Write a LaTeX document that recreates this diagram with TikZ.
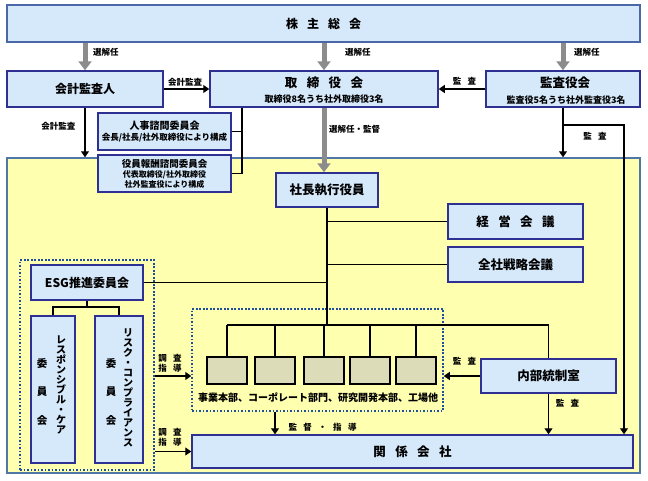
\documentclass[tikz,border=0pt]{standalone}
\usepackage{fontspec}
\setmainfont{Noto Sans CJK JP}
\usepackage{xcolor}
\usepackage{tikz}
\usetikzlibrary{arrows.meta,positioning}
\definecolor{boxfill}{HTML}{D6E9FB}
\definecolor{boxline}{HTML}{2E3192}
\definecolor{topline}{HTML}{4A68A8}
\definecolor{areafill}{HTML}{FFFFB0}
\definecolor{arealine}{HTML}{4F78A8}
\definecolor{unitfill}{HTML}{DCDCB8}
\definecolor{dotline}{HTML}{1F4E9C}
\definecolor{electgray}{HTML}{8C8C8C}
\newcommand{\jsp}{\hspace{0.75em}}
\newcommand{\fsz}[2]{\fontsize{#1}{#2}\selectfont}
\tikzset{
  orgbox/.style={draw=boxline,line width=1.5pt,fill=boxfill,inner sep=0pt,align=center},
  unitbox/.style={draw=black,line width=1.3pt,fill=unitfill,minimum width=40pt,minimum height=27pt,inner sep=0pt},
  dotframe/.style={draw=dotline,line width=1.5pt,dash pattern=on 1.8pt off 1.7pt,inner sep=0pt},
  tag/.style={font=\fsz{8.5}{10}\bfseries,inner sep=0pt,align=center},
  tate/.style={font=\fsz{10}{10}\bfseries,inner sep=0pt,align=center},
  tateiin/.style={font=\fsz{10.5}{28.5}\bfseries,inner sep=0pt,align=center},
  link/.style={line width=1.2pt},
  flow/.style={line width=1.2pt,-{Triangle[width=8pt,length=6pt]}},
  elect/.style={draw=electgray,line width=5pt,-{Triangle[width=13pt,length=9pt]}},
}
\begin{document}
\begin{tikzpicture}[x=1pt,y=-1pt]
\useasboundingbox (0,0) rectangle (648,480);
% shareholders and executive area
\node[orgbox,draw=topline,line width=1.2pt,minimum width=633pt,minimum height=37pt,font=\fsz{12}{14}\bfseries] (soukai) at (323.5,23.5) {株\jsp 主\jsp 総\jsp 会};
\node[draw=arealine,fill=areafill,line width=1.5pt,minimum width=633pt,minimum height=315pt,inner sep=0pt] (area) at (323.5,315.5) {};
% board level
\node[orgbox,minimum width=156pt,minimum height=36pt,font=\fsz{12}{14}\bfseries] (kansanin) at (85,89) {会計監査人};
\node[orgbox,minimum width=228pt,minimum height=36pt] (torishimari) at (324,89) {};
\node[font=\fsz{12.5}{14}\bfseries,inner sep=0pt] (torishimarit) at (324,82.5) {取\jsp 締\jsp 役\jsp 会};
\node[font=\fsz{9}{11}\bfseries,inner sep=0pt] (torishimaris) at (324,99.5) {取締役8名うち社外取締役3名};
\node[orgbox,minimum width=154pt,minimum height=36pt] (kansayaku) at (563,89) {};
\node[font=\fsz{12.5}{14}\bfseries,inner sep=0pt] (kansayakut) at (565,83) {監査役会};
\node[font=\fsz{9}{11}\bfseries,inner sep=0pt] (kansayakus) at (566,100) {監査役5名うち社外監査役3名};
\node[orgbox,minimum width=133pt,minimum height=37pt,font=\fsz{8.5}{11}\bfseries] (jinji) at (164.5,131.5) {{\fsz{10}{11}人事諮問委員会}\\会長/社長/社外取締役により構成};
\node[orgbox,minimum width=133pt,minimum height=37pt,font=\fsz{8}{10}\bfseries] (housyu) at (164.5,173.5) {{\fsz{9.5}{10}役員報酬諮問委員会}\\代表取締役/社外取締役\\社外監査役により構成};
% election arrows
\draw[elect] (soukai.south -| kansanin.north) -- (kansanin.north);
\draw[elect] (soukai.south -| torishimari.north) -- (torishimari.north);
\draw[elect] (soukai.south -| kansayaku.north) -- (kansayaku.north);
\node[tag,anchor=west] (sen1) at (93,52) {選解任};
\node[tag,anchor=west] (sen2) at (345,52) {選解任};
\node[tag,anchor=west] (sen3) at (574,52) {選解任};
\draw[flow] (kansanin.east) -- (torishimari.west);
\node[tag] (kaikei1) at (185,82) {会計監査};
\draw[flow] (kansayaku.west) -- (torishimari.east);
\node[tag] (kansa1) at (464.5,81) {監\jsp 査};
\draw[flow] (kansanin.south) -- (kansanin.south |- area.north);
\node[tag] (kaikei2) at (58.5,126) {会計監査};
% advisory committees
\coordinate (tap) at ([xshift=-82pt]torishimari.south);
\draw[link] (tap) |- (housyu.east);
\draw[link] (jinji.east) -- (jinji.east -| tap);
% president
\node[orgbox,minimum width=102pt,minimum height=34pt,font=\fsz{12.5}{14}\bfseries] (shacho) at (327,190) {社長執行役員};
\draw[elect] (torishimari.south) -- (torishimari.south |- shacho.north);
\node[tag,anchor=west] (senkan) at (329,129) {選解任・監督};
% audit from kansayaku
\coordinate (kreturn) at (624,125);
\draw[flow] (kansayaku.south) -- (kansayaku.south |- area.north);
\node[tag] (kansa2) at (595,136) {監\jsp 査};
% meetings
\node[orgbox,minimum width=135pt,minimum height=35pt,font=\fsz{12.5}{14}\bfseries] (keiei) at (515.5,221.5) {経\jsp 営\jsp 会\jsp 議};
\node[orgbox,minimum width=135pt,minimum height=35pt,font=\fsz{12.5}{14}\bfseries] (senryaku) at (515.5,264.5) {全社戦略会議};
% ESG group
\node[dotframe,minimum width=134pt,minimum height=210pt] (esgframe) at (87,365) {};
\node[orgbox,minimum width=112pt,minimum height=35pt,font=\fsz{12}{14}\bfseries] (esg) at (87,282.5) {ESG推進委員会};
\node[orgbox,minimum width=44pt,minimum height=147pt] (rc) at (53,389.5) {};
\node[tate] (rcname) at (61,385) {レ\\ス\\ポ\\ン\\シ\\ブ\\ル\\・\\ケ\\ア};
\node[tateiin] (rciin) at (42,392) {委\\員\\会};
\node[orgbox,minimum width=48pt,minimum height=147pt] (risk) at (119,389.5) {};
\node[tate] (riskname) at (128,388) {リ\\ス\\ク\\・\\コ\\ン\\プ\\ラ\\イ\\ア\\ン\\ス};
\node[tateiin] (riskiin) at (111,392) {委\\員\\会};
\coordinate (esgfork) at (87,307);
\draw[link] (esg.south) -- (esgfork);
\draw[link] (rc.north) |- (esgfork) -| (risk.north);
% business units
\node[dotframe,minimum width=251pt,minimum height=102pt] (unitframe) at (317.5,360) {};
\foreach \x [count=\i] in {227,275,324,370,416}
  \node[unitbox] (u\i) at (\x,370.5) {};
\node[font=\fsz{10}{12}\bfseries,inner sep=0pt] (unitcap) at (318,398) {事業本部、コーポレート部門、研究開発本部、工場他};
\node[orgbox,minimum width=135pt,minimum height=34pt,font=\fsz{12.5}{14}\bfseries] (naibu) at (548.5,376) {内部統制室};
\node[orgbox,minimum width=441pt,minimum height=33pt,font=\fsz{12.5}{14}\bfseries] (kankei) at (412.5,451.5) {関\jsp 係\jsp 会\jsp 社};
% executive lines
\coordinate (bus) at (327,325);
\draw[link] (shacho.south) -- (shacho.south |- bus);
\draw[link] (keiei.west -| shacho.south) -- (keiei.west);
\draw[link] (senryaku.west -| shacho.south) -- (senryaku.west);
\draw[link] (esg.east) -- (esg.east -| shacho.south);
\draw[link] (u1.north |- bus) -- (naibu.north |- bus) -- (naibu.north);
\foreach \i in {1,...,5}
  \draw[link] (u\i.north) -- (u\i.north |- bus);
% audits and guidance
\draw[flow] (naibu.west) -- (naibu.west -| unitframe.east);
\node[tag] (kansa3) at (464.5,361) {監\jsp 査};
\draw[flow] (naibu.south) -- (naibu.south |- kankei.north);
\node[tag] (kansa4) at (567.5,403) {監\jsp 査};
\draw[flow] (kansayaku.south |- kreturn) -- (kreturn) -- (kreturn |- kankei.north);
\draw[flow] (unitframe.south -| u2) -- (u2 |- kankei.north);
\node[tag] (kantoku) at (322.5,427) {監\jsp 督\jsp ・\jsp 指\jsp 導};
\draw[flow] (esgframe.east |- naibu.west) -- (unitframe.west |- naibu.west);
\node[tag] (chosa1) at (170,363.5) {調\jsp 査\\指\jsp 導};
\draw[flow] (esgframe.east |- kankei.west) -- (kankei.west);
\node[tag] (chosa2) at (170,437.5) {調\jsp 査\\指\jsp 導};
\end{tikzpicture}
\end{document}
